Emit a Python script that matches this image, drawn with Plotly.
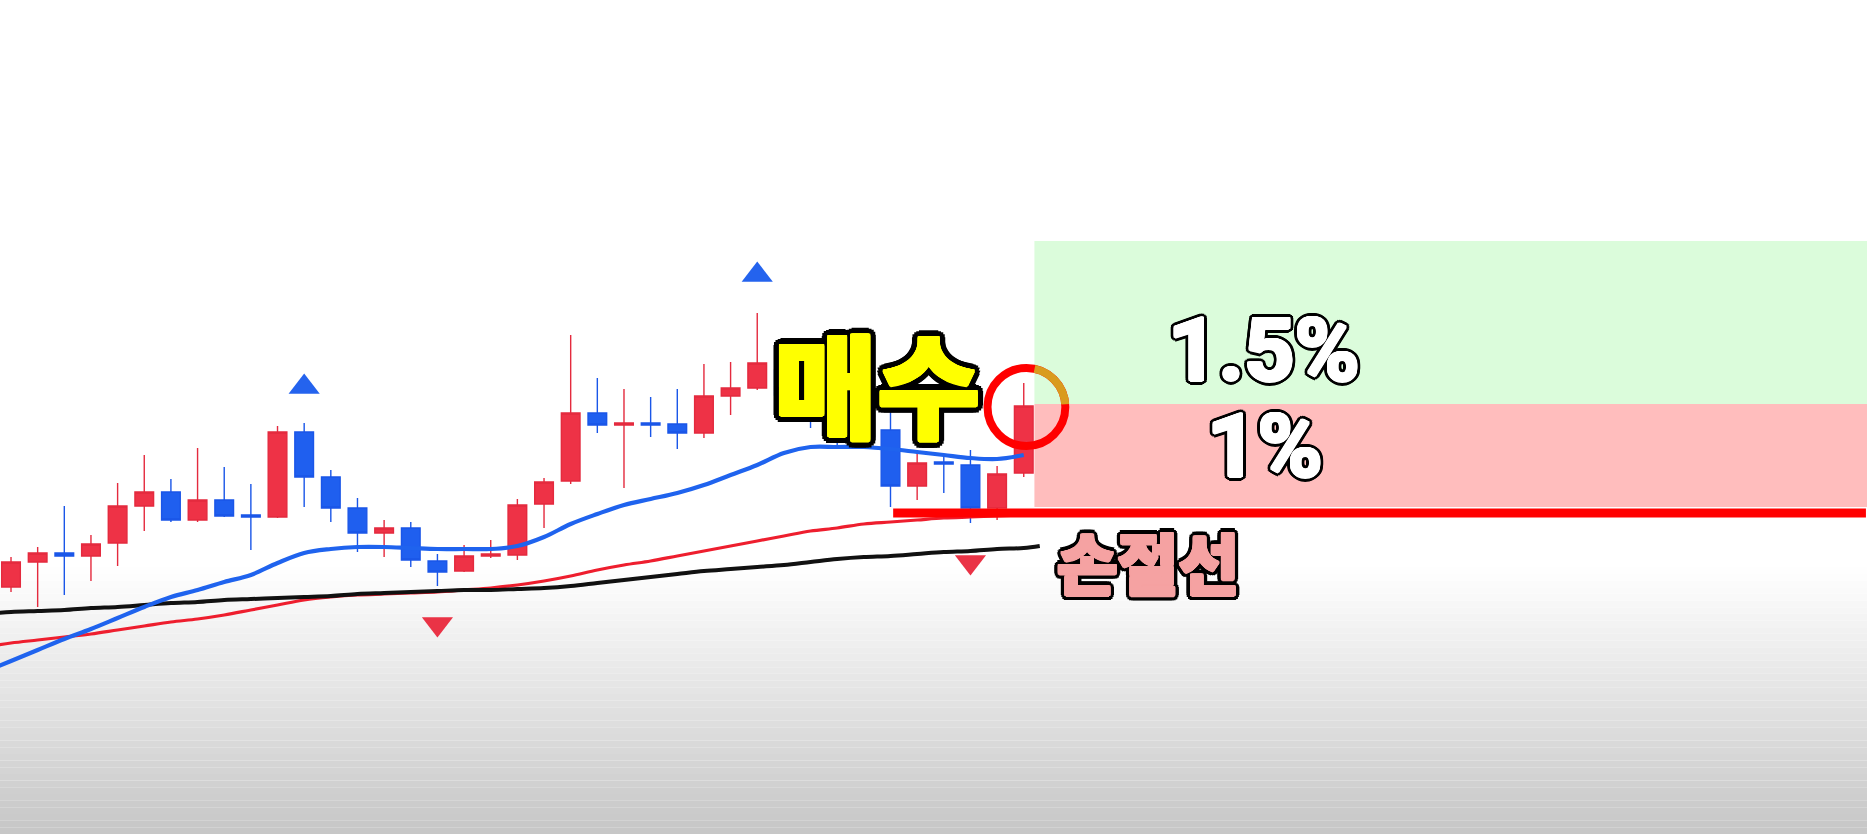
import math
import plotly.graph_objects as go

# candle index (x) and OHLC values (price units = pixel rows from bottom)
idx = list(range(1, 40))
opens = [247, 272, 281, 278, 291, 328, 342, 314, 334, 319, 317, 402, 357, 326, 301, 306, 273, 263, 278, 279,
         330, 353, 421, 409, 411, 410, 401, 438, 446, 464, 439, 414, 392, 404, 348, 372, 369, 326, 361]
highs = [277, 287, 328, 299, 351, 379, 355, 386, 367, 350, 408, 411, 364, 336, 314, 312, 280, 289, 294, 335,
         356, 499, 456, 445, 437, 445, 470, 472, 521, 479, 449, 424, 431, 441, 384, 378, 384, 368, 451]
lows = [242, 227, 239, 253, 268, 303, 312, 312, 317, 284, 316, 327, 312, 282, 277, 267, 248, 262, 276, 274,
        306, 350, 401, 346, 397, 385, 396, 419, 444, 434, 406, 389, 386, 327, 334, 341, 311, 314, 357]
closes = [272, 281, 278, 290, 328, 342, 314, 334, 318, 317, 402, 357, 326, 301, 306, 274, 262, 278, 280, 329,
          352, 421, 409, 411, 409, 401, 438, 446, 471, 439, 414, 396, 404, 348, 371, 370, 326, 360, 428]

# moving averages (start one bar before the first visible candle)
ma_idx = list(range(0, 40))
ma_short = [162, 173, 184, 195, 205, 216, 227, 237, 244, 252, 259, 271, 281, 285, 287, 287, 286, 285, 285, 285,
            288, 297, 310, 320, 329, 335, 341, 349, 359, 369, 381, 387, 387, 387, 385, 382, 379, 376, 375, 379]
ma_mid = [187, 191, 194, 197, 200, 204, 208, 212, 215, 219, 224, 229, 234, 237, 239, 240, 241, 242, 244, 246,
          249, 253, 258, 264, 269, 273, 278, 283, 288, 293, 298, 303, 306, 310, 312, 314, 316, 317, 318, 319]
ma_long_idx = ma_idx + [39.6]
ma_long = [220, 222, 223, 224, 226, 227, 229, 231, 232, 234, 235, 236, 237, 238, 240, 241, 242, 243, 244, 244,
           245, 246, 248, 251, 254, 257, 260, 263, 265, 267, 269, 272, 275, 277, 278, 280, 282, 283, 285, 286, 288]

# buy / sell signals
buy_idx = [12, 29]
buy_val = [447, 559]
sell_idx = [17, 37]
sell_val = [210, 272]

# trade setup
zone_start = 39.4
take_profit = 593
entry = 430
risk_bottom = 327
stop_loss = 321
stop_line_start = 34.1
x_end = 70.6

RED = '#EE3246'
BLUE = '#1F5FEF'


def outline(w, color='#000000', fill=None, grow=0, n=16):
    # fake a text stroke with a ring of text shadows (first ones are drawn on top)
    parts = []
    if fill and grow:
        for r in (grow * 0.5, grow):
            for k in range(n):
                a = 2 * math.pi * k / n
                parts.append(f"{r * math.cos(a):.1f}px {r * math.sin(a):.1f}px 0 {fill}")
    for r in (w * 0.5, w * 0.8, w):
        for k in range(n):
            a = 2 * math.pi * k / n
            parts.append(f"{r * math.cos(a):.1f}px {r * math.sin(a):.1f}px 0 {color}")
    return ', '.join(parts)


fig = go.Figure()

fig.add_trace(go.Candlestick(
    x=idx, open=opens, high=highs, low=lows, close=closes,
    increasing=dict(line=dict(color='#E42A3E', width=1.4), fillcolor=RED),
    decreasing=dict(line=dict(color='#1A56E8', width=1.4), fillcolor=BLUE),
    whiskerwidth=0, showlegend=False, hoverinfo='skip'
))

fig.add_trace(go.Scatter(x=ma_idx, y=ma_mid, mode='lines', line=dict(color='#EE1E2E', width=3.2, shape='spline'),
                         showlegend=False, hoverinfo='skip'))
fig.add_trace(go.Scatter(x=ma_long_idx, y=ma_long, mode='lines', line=dict(color='#111111', width=4, shape='spline'),
                         showlegend=False, hoverinfo='skip'))
fig.add_trace(go.Scatter(x=ma_idx, y=ma_short, mode='lines', line=dict(color='#1F63EE', width=4.2, shape='spline'),
                         showlegend=False, hoverinfo='skip'))

fig.add_trace(go.Scatter(x=buy_idx, y=buy_val, mode='markers',
                         marker=dict(symbol='triangle-up', size=27, color='#2463EE'),
                         showlegend=False, hoverinfo='skip'))
fig.add_trace(go.Scatter(x=sell_idx, y=sell_val, mode='markers',
                         marker=dict(symbol='triangle-down', size=27, color='#EA3346'),
                         showlegend=False, hoverinfo='skip'))

shapes = []
# soft grey gradient at the bottom of the frame
n_bands = 40
g_top, g_bot = 0.32, 0.0
for k in range(n_bands):
    y0 = g_top - (g_top - g_bot) * k / n_bands
    y1 = g_top - (g_top - g_bot) * (k + 1) / n_bands
    shade = int(round(255 - 57 * (k + 0.5) / n_bands))
    shapes.append(dict(type='rect', xref='paper', yref='paper', x0=0, x1=1, y0=y1, y1=y0,
                       fillcolor=f'rgb({shade},{shade},{shade})', line=dict(width=0), layer='below'))

# risk zone (pink) and target zone (green)
shapes.append(dict(type='rect', x0=zone_start, x1=x_end + 1, y0=risk_bottom, y1=entry,
                   fillcolor='#FFBDBD', line=dict(width=0), layer='below'))
shapes.append(dict(type='rect', x0=zone_start, x1=x_end + 1, y0=entry, y1=take_profit,
                   fillcolor='#DBFCDB', line=dict(width=0), layer='below'))

# highlight circle around the entry candle
cx, cy, rx, ry = 39.1, 427, 1.46, 39
shapes.append(dict(type='circle', x0=cx - rx, x1=cx + rx, y0=cy - ry, y1=cy + ry,
                   line=dict(color='#FF0000', width=8), layer='above'))

# part of the circle that sits on the green zone
ta, tb = math.radians(78), math.radians(4)
kk = 4 / 3 * math.tan((tb - ta) / 4)


def pt(t):
    return cx + rx * math.cos(t), cy + ry * math.sin(t)


def dv(t):
    return -rx * math.sin(t), ry * math.cos(t)


p0, p3 = pt(ta), pt(tb)
d0, d3 = dv(ta), dv(tb)
c1 = (p0[0] + kk * d0[0], p0[1] + kk * d0[1])
c2 = (p3[0] - kk * d3[0], p3[1] - kk * d3[1])
arc = f"M {p0[0]},{p0[1]} C {c1[0]},{c1[1]} {c2[0]},{c2[1]} {p3[0]},{p3[1]}"
shapes.append(dict(type='path', path=arc, line=dict(color='#D99B1E', width=8), layer='above'))

# stop-loss line
shapes.append(dict(type='line', x0=stop_line_start, x1=x_end, y0=stop_loss, y1=stop_loss,
                   line=dict(color='#FF0000', width=9), layer='above'))

annotations = [
    dict(x=33.5, y=453, text='매수', showarrow=False, xref='x', yref='y',
         font=dict(family='Noto Sans CJK KR', size=112, color='#FFFF00', weight=900,
                   shadow=outline(7, fill='#FFFF00', grow=1.5))),
    dict(x=48.0, y=485, text='1.5%', showarrow=False, xref='x', yref='y',
         font=dict(family='Liberation Sans Narrow, Roboto', size=88, color='#FFFFFF', weight=700,
                   shadow=outline(4.5, fill='#FFFFFF', grow=1.5))),
    dict(x=48.05, y=389, text='1%', showarrow=False, xref='x', yref='y',
         font=dict(family='Liberation Sans Narrow, Roboto', size=88, color='#FFFFFF', weight=700,
                   shadow=outline(4.5, fill='#FFFFFF', grow=1.5))),
    dict(x=43.65, y=274, text='손절선', showarrow=False, xref='x', yref='y',
         font=dict(family='Noto Sans CJK KR', size=66, color='#F5A2A2', weight=900,
                   shadow=outline(5, fill='#F5A2A2', grow=1.5) + ', 3px 4px 0 #000000')),
]

fig.update_layout(
    width=1867, height=834,
    margin=dict(l=0, r=0, t=0, b=0),
    paper_bgcolor='white', plot_bgcolor='rgba(0,0,0,0)',
    boxgap=0.3, boxgroupgap=0,
    xaxis=dict(range=[0.587, 70.64], visible=False, rangeslider=dict(visible=False), fixedrange=True),
    yaxis=dict(range=[0, 834], visible=False, fixedrange=True),
    shapes=shapes, annotations=annotations,
    showlegend=False,
)

fig.write_html("out.html", config={'displayModeBar': False},
               post_script="document.body.style.margin='0';document.body.style.overflow='hidden';")
